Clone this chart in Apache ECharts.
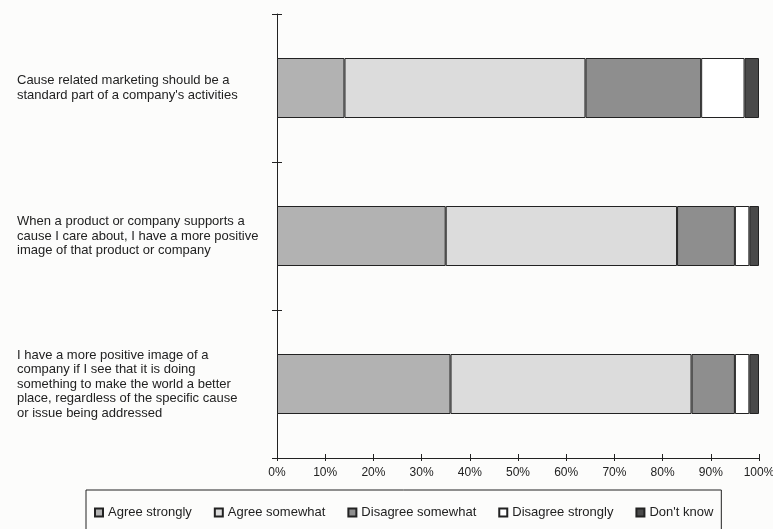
<!DOCTYPE html>
<html>
<head>
<meta charset="utf-8">
<script src="https://cdn.jsdelivr.net/npm/echarts@6/dist/echarts.min.js"></script>
<style>
  html, body { margin: 0; padding: 0; background: #fcfcfb; }
  #chart { width: 773px; height: 529px; }
</style>
</head>
<body>
<div id="chart"></div>
<script>
// survey statements (top to bottom)
var categories = [
  "Cause related marketing should be a\nstandard part of a company's activities",
  "When a product or company supports a\ncause I care about, I have a more positive\nimage of that product or company",
  "I have a more positive image of a\ncompany if I see that it is doing\nsomething to make the world a better\nplace, regardless of the specific cause\nor issue being addressed"
];
var seriesNames = ["Agree strongly", "Agree somewhat", "Disagree somewhat", "Disagree strongly", "Don't know"];
// percent of respondents
var agreeStrongly = [14, 35, 36];
var agreeSomewhat = [50, 48, 50];
var disagreeSomewhat = [24, 12, 9];
var disagreeStrongly = [9, 3, 3];
var dontKnow = [3, 2, 2];
var xTicks = [0, 10, 20, 30, 40, 50, 60, 70, 80, 90, 100];

var colors = ['#b2b2b2', '#dcdcdc', '#8e8e8e', '#ffffff', '#4a4a4a'];
var values = [agreeStrongly, agreeSomewhat, disagreeSomewhat, disagreeStrongly, dontKnow];

var myChart = echarts.init(document.getElementById('chart'));

var series = seriesNames.map(function (name, i) {
  return {
    name: name,
    type: 'bar',
    stack: 'total',
    barWidth: 60,
    xAxisIndex: 0,
    yAxisIndex: 0,
    itemStyle: {
      color: colors[i],
      borderColor: '#222',
      borderWidth: 1
    },
    data: values[i]
  };
});

var option = {
  backgroundColor: '#fcfcfb',
  textStyle: { fontFamily: 'Liberation Sans, Arial, sans-serif' },
  grid: {
    left: 277,
    right: 14,
    top: 14,
    bottom: 71,
    outerBoundsMode: 'none'
  },
  legend: {
    data: seriesNames,
    left: 86,
    top: 490,
    orient: 'horizontal',
    itemWidth: 8,
    itemHeight: 8,
    itemGap: 22,
    icon: 'rect',
    borderColor: '#222',
    borderWidth: 1,
    padding: [16, 8, 16, 8],
    textStyle: { color: '#222', fontSize: 13, fontFamily: 'Liberation Sans' }
  },
  xAxis: [
    {
      type: 'value',
      min: xTicks[0],
      max: xTicks[xTicks.length - 1],
      interval: 10,
      splitLine: { show: false },
      axisLine: { show: true, lineStyle: { color: '#222', width: 1 } },
      axisTick: { show: true, inside: false, length: 3, lineStyle: { color: '#222' } },
      axisLabel: {
        color: '#222',
        fontSize: 12,
        margin: 9,
        formatter: '{value}%'
      }
    },
    {
      type: 'value',
      position: 'bottom',
      min: xTicks[0],
      max: xTicks[xTicks.length - 1],
      interval: 10,
      splitLine: { show: false },
      axisLine: { show: false },
      axisTick: { show: true, inside: true, length: 4, lineStyle: { color: '#222' } },
      axisLabel: { show: false }
    }
  ],
  yAxis: [
    {
      type: 'category',
      inverse: true,
      data: categories,
      axisLine: { show: true, lineStyle: { color: '#222', width: 1 } },
      axisTick: { show: true, inside: false, length: 5, lineStyle: { color: '#222' } },
      axisLabel: {
        align: 'left',
        margin: 260,
        color: '#222',
        fontSize: 13,
        lineHeight: 14.5
      }
    },
    {
      type: 'category',
      inverse: true,
      position: 'left',
      data: categories,
      axisLine: { show: false },
      axisTick: { show: true, inside: true, length: 5, lineStyle: { color: '#222' } },
      axisLabel: { show: false }
    }
  ],
  series: series
};

myChart.setOption(option);
</script>
</body>
</html>
